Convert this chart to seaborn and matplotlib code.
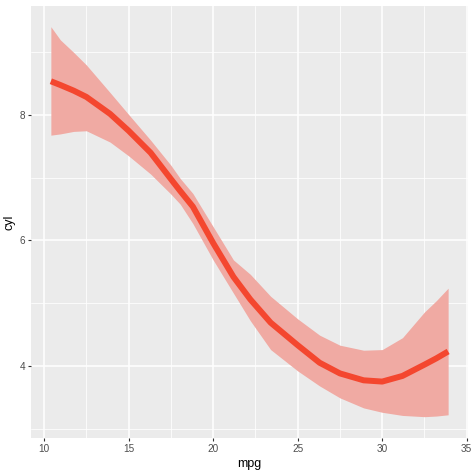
import matplotlib
matplotlib.use("Agg")
import matplotlib.pyplot as plt
import seaborn as sns
import pandas as pd
from matplotlib.ticker import MultipleLocator

# values (smoothed fit of cyl on mpg with confidence band)
mpg = [10.4, 10.96, 11.75, 12.5, 13.9, 15.0, 16.3, 17.5, 18.05, 18.8, 20.0, 21.2,
       22.2, 23.4, 25.0, 26.3, 27.5, 28.9, 30.0, 31.2, 32.5, 33.2, 33.9]
fit = [8.54, 8.48, 8.39, 8.29, 8.02, 7.75, 7.40, 6.98, 6.79, 6.54, 5.96, 5.42,
       5.06, 4.69, 4.33, 4.05, 3.88, 3.77, 3.75, 3.84, 4.02, 4.12, 4.23]
upper = [9.41, 9.20, 9.00, 8.80, 8.36, 8.01, 7.60, 7.20, 6.99, 6.75, 6.22, 5.69,
         5.46, 5.11, 4.75, 4.49, 4.33, 4.25, 4.26, 4.45, 4.86, 5.04, 5.24]
lower = [7.68, 7.70, 7.74, 7.75, 7.57, 7.35, 7.06, 6.74, 6.58, 6.27, 5.69, 5.16,
         4.72, 4.26, 3.92, 3.68, 3.49, 3.33, 3.26, 3.21, 3.19, 3.20, 3.22]

x_ticks = [10, 15, 20, 25, 30, 35]
y_ticks = [4, 6, 8]

df = pd.DataFrame({"mpg": mpg, "cyl": fit, "lo": lower, "hi": upper})

sns.set_theme(style="darkgrid")
plt.rcParams['font.family'] = ['Liberation Sans', 'DejaVu Sans']

fig = plt.figure(figsize=(4.74, 4.73), dpi=100)
ax = fig.add_axes([31/474, 1 - 438/473, (468 - 31)/474, (438 - 6)/473])
ax.set_facecolor("#EBEBEB")

ax.fill_between(df["mpg"], df["lo"], df["hi"], color="#F0AAA3", linewidth=0, zorder=2)
sns.lineplot(data=df, x="mpg", y="cyl", ax=ax, color="#F4472F", linewidth=4.3,
             zorder=3, sort=True, estimator=None)
ax.lines[-1].set_solid_joinstyle("round")
ax.lines[-1].set_solid_capstyle("butt")

ax.set_xlim(9.225, 35.075)
ax.set_ylim(2.85, 9.74)
ax.set_xticks(x_ticks)
ax.set_yticks(y_ticks)
ax.xaxis.set_minor_locator(MultipleLocator(2.5))
ax.yaxis.set_minor_locator(MultipleLocator(1))
ax.grid(which="major", color="white", linewidth=1.1, zorder=0)
ax.grid(which="minor", color="white", linewidth=0.55, zorder=0)
ax.set_axisbelow(True)
for s in ax.spines.values():
    s.set_visible(False)

ax.tick_params(axis="both", which="major", length=2.2, width=0.8, color="#333333",
               labelsize=7.2, labelcolor="#4D4D4D", pad=2.2, bottom=True, left=True)
ax.tick_params(axis="both", which="minor", length=0)
ax.set_xlabel("mpg", fontsize=9, color="black", labelpad=3)
ax.set_ylabel("cyl", fontsize=9, color="black", labelpad=3)

fig.savefig("out.png", dpi=100)
